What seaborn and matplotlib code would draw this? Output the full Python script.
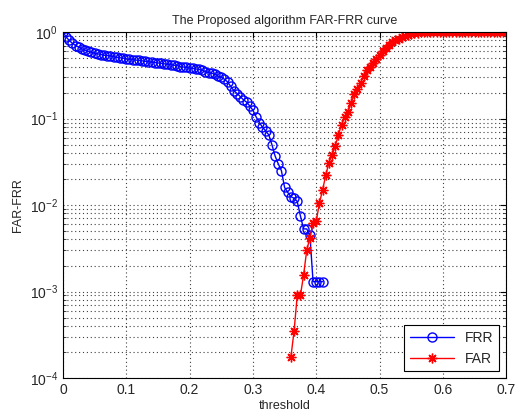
import numpy as np
import pandas as pd
import matplotlib
matplotlib.use("Agg")
import matplotlib.pyplot as plt
import seaborn as sns

# FAR / FRR values (thresholds step 0.005)
frr_threshold = np.round(np.arange(0.0, 0.4101, 0.005), 3)
frr_values = [
    1.0, 0.88, 0.80, 0.74, 0.70, 0.67, 0.64, 0.62, 0.60, 0.585,
    0.57, 0.56, 0.55, 0.54, 0.535, 0.53, 0.52, 0.51, 0.505, 0.50,
    0.49, 0.485, 0.48, 0.475, 0.47, 0.465, 0.46, 0.455, 0.45, 0.445,
    0.44, 0.435, 0.43, 0.425, 0.42, 0.415, 0.41, 0.40, 0.395, 0.39,
    0.385, 0.38, 0.375, 0.37, 0.36, 0.35, 0.34, 0.335, 0.325, 0.31,
    0.30, 0.285, 0.265, 0.235, 0.21, 0.195, 0.18, 0.165, 0.155, 0.14,
    0.125, 0.105, 0.09, 0.08, 0.072, 0.065, 0.05, 0.037, 0.03, 0.025,
    0.016, 0.014, 0.0125, 0.012, 0.011, 0.0075, 0.0053, 0.0053, 0.0045, 0.0013,
    0.0013, 0.0013, 0.0013,
]

far_threshold = np.round(np.arange(0.36, 0.7001, 0.005), 3)
far_values = [
    1.75e-4, 3.5e-4, 9.0e-4, 9.0e-4, 1.55e-3, 3.0e-3, 4.2e-3, 6.2e-3, 6.5e-3, 0.0105,
    0.015, 0.022, 0.031, 0.038, 0.048, 0.065, 0.085, 0.104, 0.12, 0.15,
    0.19, 0.22, 0.26, 0.31, 0.36, 0.40, 0.44, 0.49, 0.54, 0.60,
    0.66, 0.71, 0.76, 0.80, 0.84, 0.87, 0.90, 0.93, 0.95, 0.97,
    0.98, 0.99, 0.995, 1.0, 1.0, 1.0, 1.0, 1.0, 1.0, 1.0,
    1.0, 1.0, 1.0, 1.0, 1.0, 1.0, 1.0, 1.0, 1.0, 1.0,
    1.0, 1.0, 1.0, 1.0, 1.0, 1.0, 1.0, 1.0, 1.0,
]

frr = pd.DataFrame({"threshold": frr_threshold, "rate": frr_values})
far = pd.DataFrame({"threshold": far_threshold, "rate": far_values})

sns.set_style("white")
plt.rcParams["font.family"] = ["Liberation Sans", "DejaVu Sans"]

fig = plt.figure(figsize=(5.16, 4.17), dpi=100)
ax = fig.add_axes([0.122, 0.0935, 0.859, 0.8295])

sns.lineplot(data=frr, x="threshold", y="rate", ax=ax, color="#0000ff",
             marker="o", markersize=6.5, markerfacecolor="none",
             markeredgecolor="#0000ff", markeredgewidth=1.0,
             linewidth=1.0, label="FRR")
sns.lineplot(data=far, x="threshold", y="rate", ax=ax, color="#ff0000",
             marker=(8, 2, 0), markersize=7, markeredgecolor="#ff0000",
             markeredgewidth=1.0, linewidth=1.0, label="FAR")

ax.set_yscale("log")
ax.set_xlim(0, 0.7)
ax.set_ylim(1e-4, 1)
ax.set_xticks([0, 0.1, 0.2, 0.3, 0.4, 0.5, 0.6, 0.7])
ax.set_xticklabels(["0", "0.1", "0.2", "0.3", "0.4", "0.5", "0.6", "0.7"])

dots = (0, (1, 2.5))
ax.grid(True, which="major", linestyle=dots, color="0.25", linewidth=0.8)
ax.grid(True, which="minor", axis="y", linestyle=dots, color="0.25", linewidth=0.8)
for side in ax.spines.values():
    side.set_color("black")
    side.set_linewidth(0.8)
ax.tick_params(axis="both", which="major", direction="in", length=4,
               labelsize=10, top=True, right=True, color="black")
ax.tick_params(axis="y", which="minor", direction="in", length=2,
               left=True, right=True)

ax.set_title("The Proposed algorithm FAR-FRR curve", fontsize=9)
ax.set_xlabel("threshold", fontsize=9, labelpad=2)
ax.set_ylabel("FAR-FRR", fontsize=9)

leg = ax.legend(loc="lower right", fontsize=10, fancybox=False,
                edgecolor="black", framealpha=1, handlelength=3.2)
leg.get_frame().set_linewidth(0.8)

fig.savefig("out.png", dpi=100)
